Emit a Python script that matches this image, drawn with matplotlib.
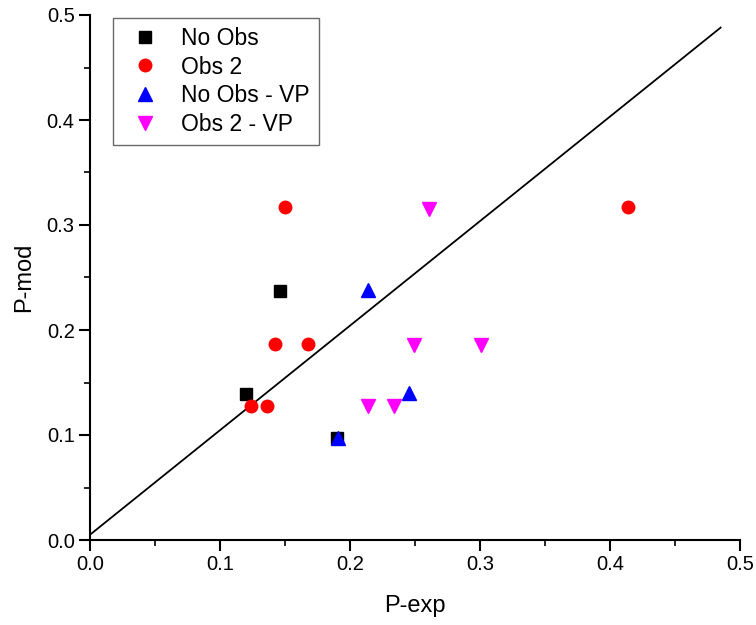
import matplotlib
matplotlib.use("Agg")
import matplotlib.pyplot as plt
from matplotlib.ticker import MultipleLocator, FormatStrFormatter

plt.rcParams['font.family'] = ['Liberation Sans', 'DejaVu Sans']

# Data
no_obs_x = [0.146, 0.120, 0.190]
no_obs_y = [0.237, 0.139, 0.097]

obs2_x = [0.150, 0.142, 0.168, 0.124, 0.136, 0.414]
obs2_y = [0.317, 0.187, 0.187, 0.128, 0.128, 0.317]

no_obs_vp_x = [0.214, 0.245, 0.191]
no_obs_vp_y = [0.238, 0.140, 0.097]

obs2_vp_x = [0.261, 0.249, 0.301, 0.214, 0.234]
obs2_vp_y = [0.315, 0.186, 0.186, 0.128, 0.128]

line_x = [0.0, 0.485]
line_y = [0.005, 0.488]

fig = plt.figure(figsize=(7.56, 6.25), dpi=100)
ax = fig.add_axes([0.119, 0.136, 0.860, 0.840])

ax.plot(line_x, line_y, color='black', lw=1.3, zorder=1)
ax.plot(no_obs_x, no_obs_y, 's', color='black', ms=8, ls='none', label='No Obs', zorder=3)
ax.plot(obs2_x, obs2_y, 'o', color='red', ms=9, ls='none', label='Obs 2', zorder=3)
ax.plot(no_obs_vp_x, no_obs_vp_y, '^', color='blue', ms=10.5, ls='none', label='No Obs - VP', zorder=4)
ax.plot(obs2_vp_x, obs2_vp_y, 'v', color='magenta', ms=10.5, ls='none', label='Obs 2 - VP', zorder=4)

ax.set_xlim(0, 0.5)
ax.set_ylim(0, 0.5)
ax.xaxis.set_major_locator(MultipleLocator(0.1))
ax.yaxis.set_major_locator(MultipleLocator(0.1))
ax.xaxis.set_minor_locator(MultipleLocator(0.05))
ax.yaxis.set_minor_locator(MultipleLocator(0.05))
ax.xaxis.set_major_formatter(FormatStrFormatter('%.1f'))
ax.yaxis.set_major_formatter(FormatStrFormatter('%.1f'))

for s in ['top', 'right']:
    ax.spines[s].set_visible(False)
for s in ['left', 'bottom']:
    ax.spines[s].set_linewidth(1.5)

ax.tick_params(which='major', direction='out', length=8, width=1.5, labelsize=14.5, pad=3)
ax.tick_params(which='minor', direction='out', length=4, width=1.2)

ax.set_xlabel('P-exp', fontsize=17, labelpad=15)
ax.set_ylabel('P-mod', fontsize=17, labelpad=8)

leg = ax.legend(loc='upper left', bbox_to_anchor=(0.036, 0.995), fontsize=16.5,
                frameon=True, fancybox=False, edgecolor='#444444',
                handletextpad=0.55, borderpad=0.4, labelspacing=0.25,
                handlelength=2.0, borderaxespad=0, numpoints=1)
leg.get_frame().set_linewidth(1.0)

fig.savefig('out.png', dpi=100)
